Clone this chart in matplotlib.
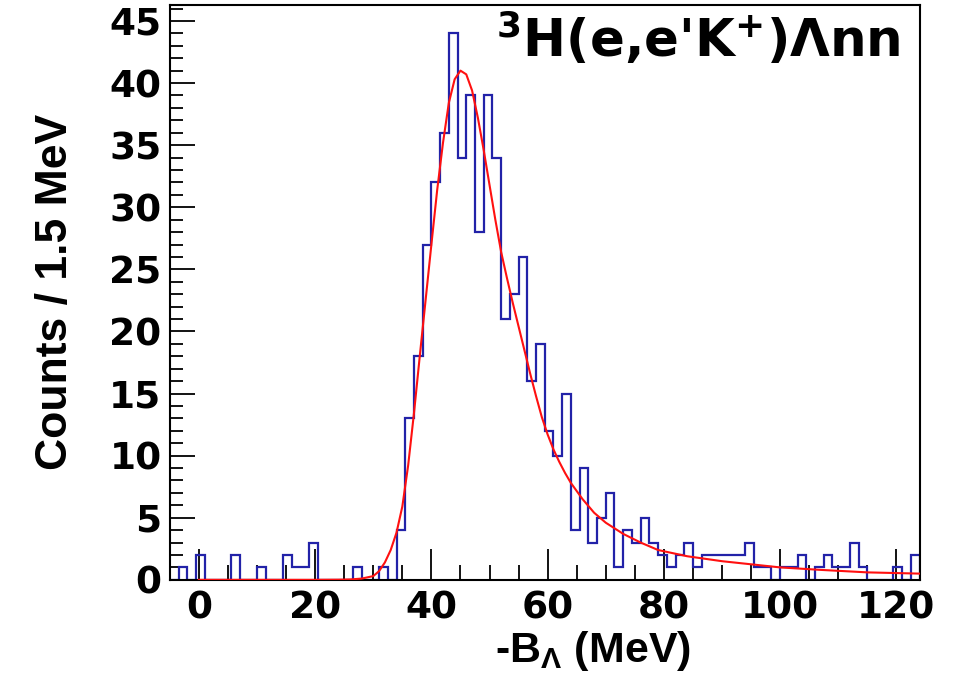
import numpy as np
import matplotlib
matplotlib.use("Agg")
import matplotlib.pyplot as plt
from matplotlib.ticker import MultipleLocator

# histogram: 1.5 MeV bins starting at -5 MeV
bin_lo = -5.0
bin_width = 1.5
counts = [0, 1, 0, 2, 0, 0, 0, 2, 0, 0,
          1, 0, 0, 2, 1, 1, 3, 0, 0, 0,
          0, 1, 0, 0, 1, 0, 4, 13, 18, 27,
          32, 36, 44, 34, 39, 28, 39, 34, 21, 23,
          26, 16, 19, 12, 10, 15, 4, 9, 3, 5,
          7, 1, 4, 3, 5, 3, 2, 1, 2, 3,
          1, 2, 2, 2, 2, 2, 3, 1, 1, 0,
          1, 1, 2, 0, 1, 2, 1, 1, 3, 1,
          0, 0, 0, 1, 0, 2]

# fit curve
fit_x = [0, 10, 20, 24, 26, 28, 30, 31, 32, 33, 34, 35, 36, 37, 38, 39, 40,
         41, 42, 43, 44, 45, 46, 47, 48, 49, 50, 51, 52, 53, 54, 55, 56, 57,
         58, 59, 60, 61, 62, 63, 64, 66, 68, 70, 73, 76, 79, 84, 90, 100,
         107, 115, 124]
fit_y = [0, 0, 0, 0.01, 0.03, 0.1, 0.3, 0.7, 1.4, 2.4, 3.8, 5.9, 9.2, 13.4,
         18, 22.5, 27, 31.4, 35.2, 38.4, 40.3, 41, 40.7, 39.4, 37.2, 34.6, 31.8,
         29, 26.4, 24.3, 22.3, 20.4, 18.5, 16.6, 14.8, 13.1, 11.7, 10.5, 9.5,
         8.6, 7.8, 6.5, 5.4, 4.6, 3.7, 3.0, 2.4, 1.9, 1.5, 1.0, 0.8, 0.6, 0.5]

edges = bin_lo + bin_width * np.arange(len(counts) + 1)

plt.rcParams["mathtext.default"] = "regular"

fig = plt.figure(figsize=(9.54, 6.87), dpi=100)
ax = fig.add_axes([0.178, 0.156, 0.786, 0.837])

ax.stairs(counts, edges, color="#2222a8", lw=1.6, zorder=2)
ax.plot(fit_x, fit_y, color="#ff1010", lw=1.5, zorder=3)

ax.set_xlim(-5, 124)
ax.set_ylim(0, 46.3)

ax.xaxis.set_major_locator(MultipleLocator(20))
ax.xaxis.set_minor_locator(MultipleLocator(5))
ax.yaxis.set_major_locator(MultipleLocator(5))
ax.yaxis.set_minor_locator(MultipleLocator(1))
ax.tick_params(axis="x", which="major", direction="in", length=22, width=1.3, pad=8)
ax.tick_params(axis="x", which="minor", direction="in", length=11, width=1.3)
ax.tick_params(axis="y", which="major", direction="in", length=18, width=1.3, pad=6)
ax.tick_params(axis="y", which="minor", direction="in", length=9, width=1.3)
for lab in ax.get_xticklabels() + ax.get_yticklabels():
    lab.set_fontfamily("DejaVu Sans")
    lab.set_fontweight("bold")
    lab.set_fontsize(27)
for sp in ax.spines.values():
    sp.set_linewidth(1.5)

ax.set_xlabel("-B$_\\mathregular{Λ}$ (MeV)", family=["Liberation Sans", "DejaVu Sans"],
              fontweight="bold", fontsize=31, labelpad=4)
ax.xaxis.set_label_coords(0.564, -0.085)
ax.set_ylabel("Counts / 1.5 MeV", family=["Liberation Sans", "DejaVu Sans"],
              fontweight="bold", fontsize=32, labelpad=24)

ax.text(0.975, 0.99, "$^\\mathregular{3}$H(e,e'K$^\\mathregular{+}$)Λnn",
        transform=ax.transAxes, ha="right", va="top",
        family="DejaVu Sans", fontweight="bold", fontsize=37)

fig.savefig("out.png", dpi=100)
